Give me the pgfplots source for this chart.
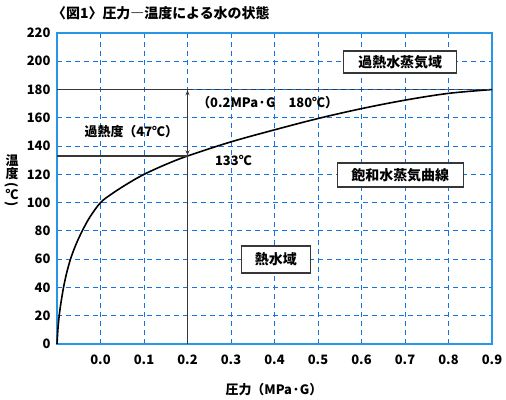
\documentclass[border=0pt]{standalone}
\usepackage{pgfplots}
\pgfplotsset{compat=1.18}
\usepackage{fontspec}
\setmainfont{Noto Sans CJK JP}
\usetikzlibrary{arrows.meta}
\definecolor{gridblue}{RGB}{20,115,220}
\definecolor{frameblue}{RGB}{40,150,230}
\definecolor{darkline}{RGB}{55,55,55}
\begin{document}
\begin{tikzpicture}[x=1bp,y=1bp]
\path[use as bounding box] (-57,-55) rectangle (449,344);
\begin{axis}[at={(0,0)},anchor=south west, scale only axis,
  width=435bp, height=311bp,
  xmin=-0.1, xmax=0.9, ymin=0, ymax=220,
  xtick={0,0.1,0.2,0.3,0.4,0.5,0.6,0.7,0.8,0.9},
  xticklabels={0.0,0.1,0.2,0.3,0.4,0.5,0.6,0.7,0.8,0.9},
  ytick={0,20,40,60,80,100,120,140,160,180,200,220},
  yticklabels={0,20,40,60,80,100,120,140,160,180,200,220},
  major tick length=0pt,
  tick label style={font=\fontsize{13}{13}\selectfont\bfseries},
  xticklabel style={yshift=-7bp},
  yticklabel style={xshift=-3bp},
  grid=major,
  major grid style={dash pattern=on 5bp off 4bp, color=gridblue, line width=1bp},
  axis line style={draw=frameblue, line width=1.6bp},
  clip=false,
]
\addplot[smooth, black, line width=1.6bp, tension=0.55] coordinates {
(-0.1,0) (-0.098,10) (-0.095,20) (-0.0905,30) (-0.085,40) (-0.078,50) (-0.069,60) (-0.057,70) (-0.042,80) (-0.024,90) (0.0,100) (0.025,106) (0.06,113) (0.1,120) (0.15,127) (0.2,133) (0.3,143) (0.4,151.5) (0.5,159.5) (0.6,166.5) (0.7,172.5) (0.8,177.3) (0.9,180)
};
\addplot[darkline, line width=1.3bp] coordinates {(-0.1,180) (0.2,180)};
\addplot[darkline, line width=1.3bp, dash pattern=on 5bp off 4bp] coordinates {(0.2,180) (0.9,180)};
\addplot[darkline, line width=1.3bp] coordinates {(-0.1,133) (0.2,133)};
\addplot[darkline, line width=1.3bp] coordinates {(0.2,0) (0.2,133)};
\addplot[darkline, line width=1bp, {Stealth[length=5bp,width=4bp]}-{Stealth[length=5bp,width=4bp]}] coordinates {(0.2,133.5) (0.2,179.5)};
\node[anchor=west, font=\fontsize{13}{13}\selectfont\bfseries, inner sep=0] at (axis cs:0.222,171) {（0.2MPa·G　180℃）};
\node[font=\fontsize{13}{13}\selectfont\bfseries, inner sep=0] at (axis cs:0.071,150) {過熱度（47℃）};
\node[anchor=west, font=\fontsize{13}{13}\selectfont\bfseries, inner sep=0] at (axis cs:0.263,129.5) {133℃};
\node[draw=darkline, line width=1.2bp, fill=white, minimum width=113bp, minimum height=22bp, inner sep=0, font=\fontsize{14}{14}\selectfont\bfseries] at (axis cs:0.689,199.5) {過熱水蒸気域};
\node[draw=darkline, line width=1.2bp, fill=white, minimum width=126bp, minimum height=24bp, inner sep=0, font=\fontsize{14}{14}\selectfont\bfseries] at (axis cs:0.689,119.5) {飽和水蒸気曲線};
\node[draw=darkline, line width=1.2bp, fill=white, minimum width=69bp, minimum height=27bp, inner sep=0, font=\fontsize{14}{14}\selectfont\bfseries] at (axis cs:0.403,59.8) {熱水域};
\end{axis}
\node[anchor=west, font=\fontsize{14}{14}\selectfont\bfseries, inner sep=0] at (-5,331) {〈図1〉圧力―温度による水の状態};
\node[font=\fontsize{13}{13}\selectfont\bfseries, inner sep=0] at (217,-46) {圧力（MPa·G）};
\begin{scope}[every node/.style={font=\fontsize{13}{13}\selectfont\bfseries, inner sep=0}]
\node at (-45,183) {温};
\node at (-45,170) {度};
\node at (-45,159) {\rotatebox{-90}{(}};
\node at (-45,150) {℃};
\node at (-45,140) {\rotatebox{-90}{)}};
\end{scope}
\end{tikzpicture}
\end{document}
